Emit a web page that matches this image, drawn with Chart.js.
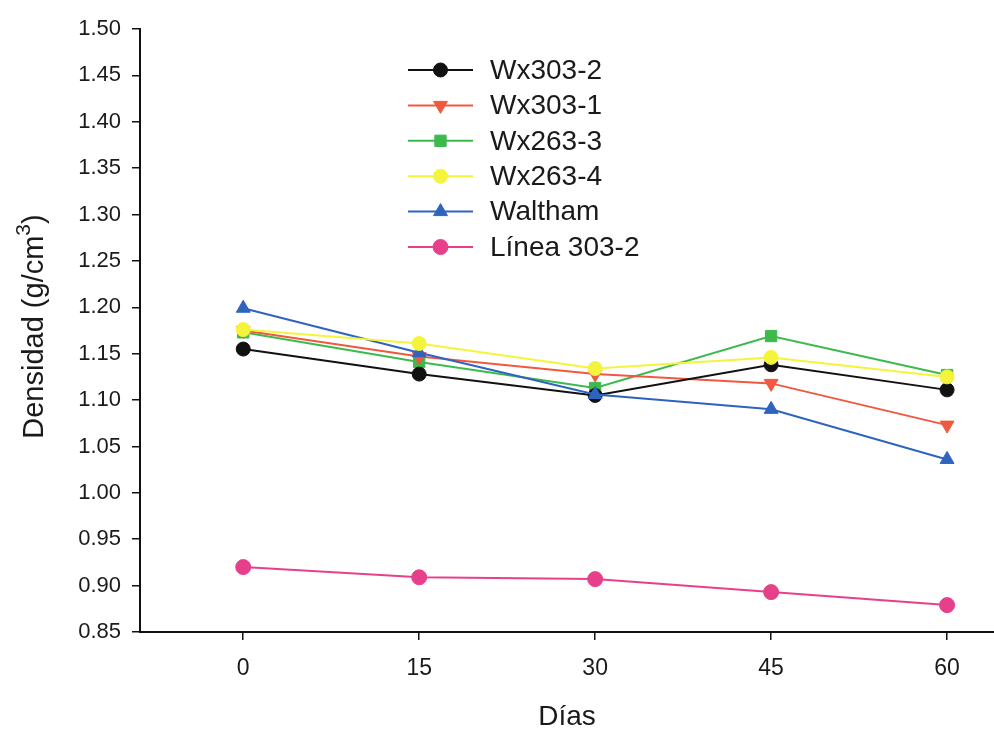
<!DOCTYPE html>
<html>
<head>
<meta charset="utf-8">
<script src="https://cdn.jsdelivr.net/npm/chart.js@4.4.1/dist/chart.umd.min.js"></script>
<style>
    html, body { margin: 0; padding: 0; background: #ffffff; }
    canvas { display: block; }
</style>
</head>
<body>
<canvas id="densidad" width="994" height="734"></canvas>
<script>
// Data
const days = [0, 15, 30, 45, 60];
const xTicks = [0, 15, 30, 45, 60];
const seriesNames = ['Wx303-2', 'Wx303-1', 'Wx263-3', 'Wx263-4', 'Waltham', 'Línea 303-2'];
const wx303_2 = [1.155, 1.128, 1.105, 1.138, 1.111];
const wx303_1 = [1.175, 1.147, 1.128, 1.118, 1.073];
const wx263_3 = [1.173, 1.141, 1.113, 1.169, 1.127];
const wx263_4 = [1.176, 1.161, 1.134, 1.146, 1.125];
const waltham = [1.199, 1.151, 1.106, 1.090, 1.036];
const linea303_2 = [0.920, 0.909, 0.907, 0.893, 0.879];

const FONT = '"Liberation Sans", Arial, sans-serif';

const densidad = () => {
    const values = [wx303_2, wx303_1, wx263_3, wx263_4, waltham, linea303_2];
    const colors = ['#111111', '#f0583f', '#3dba4c', '#f4f43c', '#2f63c0', '#e6408a'];
    const styles = ['circle', 'triangle', 'rect', 'circle', 'triangle', 'circle'];
    const rotations = [0, 180, 0, 0, 0, 0];
    const radii = [7, 8, 8, 7, 8, 7.5];
    const drawOrder = [3, 4, 5, 1, 2, 6];

    const datasets = seriesNames.map((name, i) => ({
        label: name,
        data: days.map((d, j) => ({ x: d, y: values[i][j] })),
        borderColor: colors[i],
        backgroundColor: colors[i],
        pointBackgroundColor: colors[i],
        pointBorderColor: colors[i],
        pointStyle: styles[i],
        pointRotation: rotations[i],
        pointRadius: radii[i],
        borderWidth: 2,
        pointBorderWidth: 1,
        lineTension: 0,
        clip: false,
        order: drawOrder[i],
    }));

    // Legend drawn inside the plot area, as in the original figure
    const insideLegend = {
        id: 'insideLegend',
        afterDatasetsDraw(chart) {
            const ctx = chart.ctx;
            const x0 = 408, x1 = 473, textX = 490, rowY = 70, step = 35.4;
            ctx.save();
            chart.data.datasets.forEach((ds, i) => {
                const y = rowY + i * step;
                ctx.strokeStyle = ds.borderColor;
                ctx.lineWidth = 2;
                ctx.beginPath();
                ctx.moveTo(x0, y);
                ctx.lineTo(x1, y);
                ctx.stroke();
                ctx.fillStyle = ds.pointBackgroundColor;
                ctx.strokeStyle = ds.pointBorderColor;
                ctx.lineWidth = 1;
                Chart.helpers.drawPoint(ctx, {
                    pointStyle: ds.pointStyle,
                    rotation: ds.pointRotation,
                    radius: ds.pointRadius,
                    borderWidth: 1
                }, (x0 + x1) / 2, y);
                ctx.fillStyle = '#1a1a1a';
                ctx.font = '28px ' + FONT;
                ctx.textBaseline = 'middle';
                ctx.textAlign = 'left';
                ctx.fillText(ds.label, textX, y + 1);
            });
            ctx.restore();
        }
    };

    // Y axis title with a real superscript 3
    const yTitle = {
        id: 'yTitle',
        afterDraw(chart) {
            const ctx = chart.ctx;
            const area = chart.chartArea;
            const main = 'Densidad (g/cm', sup = '3', close = ')';
            ctx.save();
            ctx.fillStyle = '#1a1a1a';
            ctx.textBaseline = 'middle';
            ctx.textAlign = 'left';
            ctx.translate(35, (area.top + area.bottom) / 2 - 4);
            ctx.rotate(-Math.PI / 2);
            ctx.font = '29px ' + FONT;
            const wMain = ctx.measureText(main).width;
            const wClose = ctx.measureText(close).width;
            ctx.font = '21px ' + FONT;
            const wSup = ctx.measureText(sup).width;
            let x = -(wMain + wSup + wClose) / 2;
            ctx.font = '29px ' + FONT;
            ctx.fillText(main, x, 0);
            x += wMain;
            ctx.font = '21px ' + FONT;
            ctx.fillText(sup, x, -11);
            x += wSup;
            ctx.font = '29px ' + FONT;
            ctx.fillText(close, x, 0);
            ctx.restore();
        }
    };

    const chartconfig = {
        type: 'line',
        data: { datasets: datasets },
        plugins: [insideLegend, yTitle],
        options: {
            responsive: false,
            animation: false,
            layout: { autoPadding: false, padding: { top: 29, right: 0, left: 0, bottom: 0 } },
            scales: {
                x: {
                    type: 'linear',
                    min: -8.8,
                    max: 64,
                    afterBuildTicks: scale => {
                        scale.ticks = xTicks.map(v => ({ value: v }));
                    },
                    afterFit: scale => {
                        scale.height = 102;
                        scale.paddingRight = 0;
                        scale.paddingLeft = 0;
                    },
                    grid: { display: true, drawOnChartArea: false, color: '#111', tickLength: 8, lineWidth: 1.5 },
                    border: { display: true, color: '#111', width: 2 },
                    ticks: {
                        color: '#1a1a1a',
                        padding: 15,
                        font: { family: FONT, size: 23 },
                    },
                    title: {
                        display: true,
                        text: 'Días',
                        color: '#1a1a1a',
                        padding: { top: 0, bottom: 0 },
                        font: { family: FONT, size: 28 },
                    }
                },
                y: {
                    min: 0.85,
                    max: 1.50,
                    afterFit: scale => { scale.width = 140; },
                    grid: { display: true, drawOnChartArea: false, color: '#111', tickLength: 8, lineWidth: 1.5 },
                    border: { display: true, color: '#111', width: 2 },
                    ticks: {
                        stepSize: 0.05,
                        color: '#1a1a1a',
                        padding: 11,
                        callback: v => v.toFixed(2),
                        font: { family: FONT, size: 22 },
                    },
                    title: { display: false }
                }
            },
            plugins: {
                legend: { display: false },
                tooltip: { enabled: false },
                title: { display: false }
            }
        }
    };

    const canvas = document.getElementById('densidad');
    if (canvas) {
        new Chart(canvas, chartconfig);
    } else {
        console.error('Canvas element with ID "densidad" not found');
    }
};

densidad();
</script>
</body>
</html>
